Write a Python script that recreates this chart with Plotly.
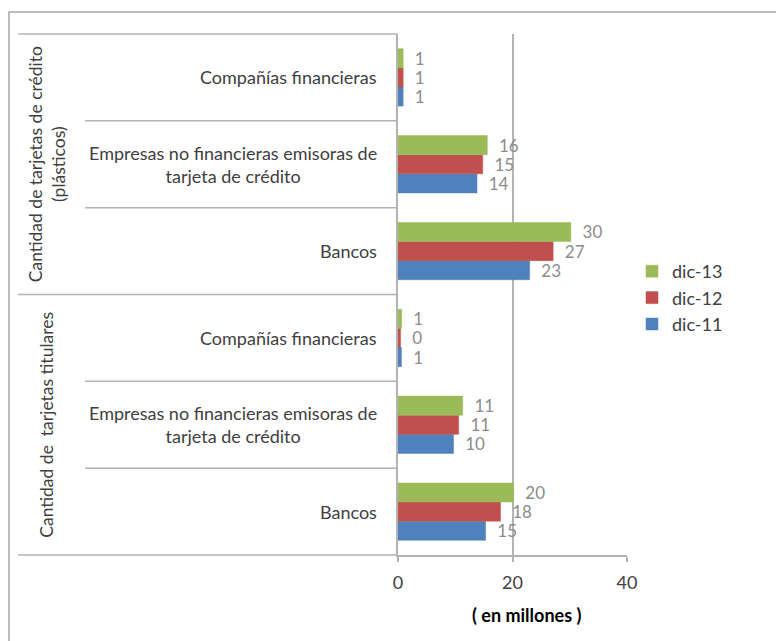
import plotly.graph_objects as go

# ---- data ----
groups = ["Cantidad de tarjetas de crédito<br>(plásticos)", "Cantidad de  tarjetas titulares"]
categories = ["Compañías financieras",
              "Empresas no financieras emisoras de<br>tarjeta de crédito",
              "Bancos"]
series_names = ["dic-11", "dic-12", "dic-13"]
series_colors = ["#4f81bd", "#c0504d", "#9bbb59"]
# values per series, order: group1 (Compañías, Empresas, Bancos), group2 (Compañías, Empresas, Bancos)
dic11 = [0.9, 13.8, 23.0, 0.6, 9.7, 15.3]
dic12 = [0.9, 14.8, 27.1, 0.45, 10.6, 17.9]
dic13 = [0.9, 15.6, 30.2, 0.64, 11.3, 20.2]
series_values = [dic11, dic12, dic13]
x_ticks = [0, 20, 40]
x_title = "( en millones )"

# unique keys for the category axis
keys = []
for gi, g in enumerate(groups):
    for ci, c in enumerate(categories):
        keys.append(f"g{gi}c{ci}")
order_bottom_to_top = list(reversed(keys))

GRID = "#b3b3b3"
FONT = "Lato"
fig = go.Figure()
for name, color, vals in zip(series_names, series_colors, series_values):
    fig.add_trace(go.Bar(
        y=keys, x=vals, name=name, orientation="h",
        marker=dict(color=color, line=dict(color=color, width=0.5)),
        texttemplate="\u00a0\u00a0%{x:.0f}", textposition="outside",
        textfont=dict(color="#8c8c8c", size=17, family=FONT),
        constraintext="none", cliponaxis=False,
    ))

# plot area in pixels
W, H = 776, 641
L, R, T, B = 398, 627, 34, 555
pw, ph = R - L, B - T
def px(xp):
    return (xp - L) / pw
def py(yp):
    return (B - yp) / ph

annotations = []
ncat = len(categories)
ntot = len(keys)
# category labels
for gi in range(len(groups)):
    for ci, c in enumerate(categories):
        annotations.append(dict(
            x=px(379), xref="paper", y=f"g{gi}c{ci}", yref="y",
            text=c, showarrow=False, xanchor="right", yanchor="middle", align="center",
            font=dict(size=18, color="#404040", family=FONT)))
# group labels (rotated)
for gi, g in enumerate(groups):
    ycenter = 1 - (gi + 0.5) / len(groups)
    annotations.append(dict(
        x=px(47), xref="paper", y=ycenter, yref="paper", text=g, textangle=-90,
        showarrow=False, xanchor="center", yanchor="middle", align="center",
        font=dict(size=17.5, color="#404040", family=FONT)))
# axis title
annotations.append(dict(x=px(526), xref="paper", y=py(615), yref="paper", text=f"<b>{x_title}</b>",
                        showarrow=False, xanchor="center", yanchor="middle",
                        font=dict(size=18, color="#000000", family=FONT)))

shapes = []
for k in range(ntot + 1):
    yy = k / ntot
    x0 = px(18) if k % ncat == 0 else px(85)
    shapes.append(dict(type="line", xref="paper", yref="paper", x0=x0, x1=0, y0=yy, y1=yy,
                       line=dict(color=GRID, width=1.5)))
# outer border
shapes.append(dict(type="rect", xref="paper", yref="paper", x0=px(9), x1=px(W + 20),
                   y0=py(H + 20), y1=py(12), line=dict(color="#a6a6a6", width=1.5),
                   fillcolor="rgba(0,0,0,0)", layer="below"))

fig.update_layout(
    width=W, height=H,
    margin=dict(l=L, r=W - R, t=T, b=H - B),
    paper_bgcolor="white", plot_bgcolor="white",
    barmode="group", bargap=0.34, bargroupgap=0,
    font=dict(family=FONT, size=18, color="#404040"),
    showlegend=True,
    legend=dict(traceorder="reversed", x=px(632), xanchor="left", y=py(298), yanchor="middle",
                font=dict(size=18, color="#404040", family=FONT), bgcolor="rgba(0,0,0,0)",
                itemwidth=30),
    xaxis=dict(range=[0, 40], tickvals=x_ticks, showgrid=True, gridcolor=GRID, gridwidth=1.5,
               zeroline=False, showline=True, linecolor=GRID, linewidth=1.5,
               ticks="outside", ticklen=5, tickcolor=GRID, tickwidth=1.5,
               tickfont=dict(size=18, color="#404040", family=FONT), ticklabelstandoff=6,
               fixedrange=True),
    yaxis=dict(type="category", categoryorder="array", categoryarray=order_bottom_to_top,
               showticklabels=False, showgrid=False, showline=True, linecolor=GRID, linewidth=1.5,
               ticks="", fixedrange=True),
    annotations=annotations, shapes=shapes,
)
fig.write_html("out.html")
